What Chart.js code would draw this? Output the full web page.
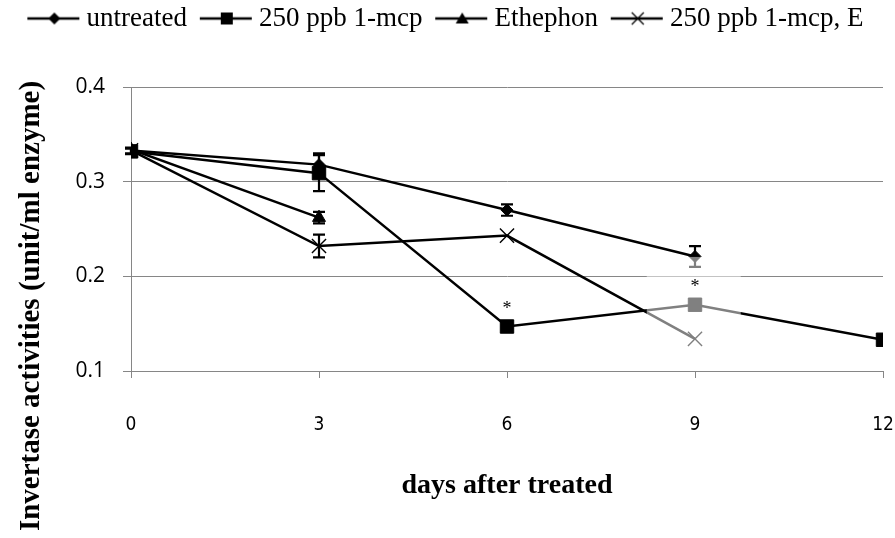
<!DOCTYPE html>
<html>
<head>
<meta charset="utf-8">
<script src="https://cdn.jsdelivr.net/npm/chart.js@4.4.1/dist/chart.umd.min.js"></script>
<style>
  html, body { margin: 0; padding: 0; background: #fff; }
  #wrap { width: 895px; height: 538px; }
</style>
</head>
<body>
<div id="wrap"><canvas id="invertaseChart"></canvas></div>
<script>
// days after treatment
const days = [0, 3, 6, 9, 12];

// invertase activity (unit/ml enzyme) and error bars
const untreated = [0.333, 0.318, 0.270, 0.221, null];
const untreatedErr = [0.003, 0.012, 0.006, 0.011, null];
const mcp250 = [0.332, 0.309, 0.147, 0.170, 0.133];
const mcp250Err = [0.003, 0.019, 0, 0, 0];
const ethephon = [0.334, 0.262, null, null, null];
const ethephonErr = [0, 0.006, null, null, null];
const mcpEthephon = [0.333, 0.232, 0.243, 0.134, null];
const mcpEthephonErr = [0, 0.012, 0, 0, null];

const seriesNames = ["untreated", "250 ppb 1-mcp", "Ethephon", "250 ppb 1-mcp, E"];
const yTicks = [0.1, 0.2, 0.3, 0.4];
const xTicks = [0, 3, 6, 9, 12];

// significant points on the 1-mcp line
const starDays = [6, 9];

// faded patch in the original (days / activity)
const fadeDays = [8.23, 9.73];
const fadeRange = [0.124, 0.2205];

function toPoints(vals) {
  return days.map((d, i) => ({ x: d, y: vals[i] })).filter(p => p.y !== null);
}

// legend icons: short line with the marker in the middle,
// drawn off-centre in a wider canvas so the spacing matches
function makeIcon(kind) {
  const c = document.createElement("canvas");
  c.width = 68; c.height = 22;
  const g = c.getContext("2d");
  const o = 15;
  g.strokeStyle = "#000"; g.fillStyle = "#000";
  g.lineWidth = 2.5;
  g.beginPath(); g.moveTo(o, 11); g.lineTo(o + 52, 11); g.stroke();
  const m = o + 27;
  g.beginPath();
  if (kind === "diamond") {
    g.moveTo(m, 5); g.lineTo(m + 6, 11); g.lineTo(m, 17); g.lineTo(m - 6, 11); g.closePath(); g.fill();
  } else if (kind === "square") {
    g.fillRect(m - 6, 5, 12, 12);
  } else if (kind === "triangle") {
    g.moveTo(m, 5); g.lineTo(m + 6.5, 16); g.lineTo(m - 6.5, 16); g.closePath(); g.fill();
  } else {
    g.lineWidth = 1.3;
    g.moveTo(m - 6, 5); g.lineTo(m + 6, 17); g.moveTo(m + 6, 5); g.lineTo(m - 6, 17); g.stroke();
  }
  return c;
}
const legendIcons = [makeIcon("diamond"), makeIcon("square"), makeIcon("triangle"), makeIcon("x")];

const errSets = [untreatedErr, mcp250Err, ethephonErr, mcpEthephonErr];
const valSets = [untreated, mcp250, ethephon, mcpEthephon];

const legendGap = {
  id: "legendGap",
  beforeInit(chart) {
    const fit = chart.legend.fit;
    chart.legend.fit = function () {
      fit.bind(chart.legend)();
      this.height += 45;
    };
  }
};

const extras = {
  id: "extras",
  afterDatasetsDraw(chart) {
    const ctx = chart.ctx;
    const xs = chart.scales.x, ys = chart.scales.y;
    // error bars
    ctx.save();
    ctx.strokeStyle = "#000";
    ctx.lineWidth = 2.2;
    valSets.forEach((vals, s) => {
      vals.forEach((v, i) => {
        const e = errSets[s][i];
        if (v === null || !e) return;
        const px = xs.getPixelForValue(days[i]);
        const top = ys.getPixelForValue(v + e);
        const bot = ys.getPixelForValue(v - e);
        ctx.beginPath();
        ctx.moveTo(px, top); ctx.lineTo(px, bot);
        ctx.moveTo(px - 6, top); ctx.lineTo(px + 6, top);
        ctx.moveTo(px - 6, bot); ctx.lineTo(px + 6, bot);
        ctx.stroke();
      });
    });
    // faded patch
    const fx0 = xs.getPixelForValue(fadeDays[0]), fx1 = xs.getPixelForValue(fadeDays[1]);
    const fy0 = ys.getPixelForValue(fadeRange[1]), fy1 = ys.getPixelForValue(fadeRange[0]);
    ctx.fillStyle = "rgba(255,255,255,0.5)";
    ctx.fillRect(fx0, fy0, fx1 - fx0, fy1 - fy0);
    // asterisks
    ctx.fillStyle = "#000";
    ctx.font = "18px 'Liberation Serif', serif";
    ctx.textAlign = "center";
    ctx.textBaseline = "alphabetic";
    starDays.forEach(d => {
      const i = days.indexOf(d);
      const px = xs.getPixelForValue(d);
      const py = ys.getPixelForValue(mcp250[i]);
      ctx.fillText("*", px, py - 13);
    });
    ctx.restore();
  },
  afterDraw(chart) {
    const ctx = chart.ctx;
    ctx.save();
    ctx.translate(32, 306);
    ctx.rotate(-Math.PI / 2);
    ctx.fillStyle = "#000";
    ctx.font = "bold 29px 'Liberation Serif', serif";
    ctx.textAlign = "center";
    ctx.textBaseline = "middle";
    ctx.fillText("Invertase activities (unit/ml enzyme)", 0, 0);
    ctx.restore();
  }
};

const lineDefaults = {
  borderColor: "#000",
  backgroundColor: "#000",
  borderWidth: 2.5,
  pointBackgroundColor: "#000",
  pointBorderColor: "#000",
  pointBorderWidth: 1,
  tension: 0,
  fill: false
};

new Chart(document.getElementById("invertaseChart"), {
  type: "line",
  data: {
    datasets: [
      { ...lineDefaults, label: seriesNames[0], data: toPoints(untreated), pointStyle: "rectRot", pointRadius: 6 },
      { ...lineDefaults, label: seriesNames[1], data: toPoints(mcp250), pointStyle: "rect", pointRadius: 9.5 },
      { ...lineDefaults, label: seriesNames[2], data: toPoints(ethephon), pointStyle: "triangle", pointRadius: 7.5 },
      { ...lineDefaults, label: seriesNames[3], data: toPoints(mcpEthephon), pointStyle: "crossRot", pointRadius: 10, pointBorderWidth: 1.4 }
    ]
  },
  options: {
    responsive: true,
    maintainAspectRatio: false,
    animation: false,
    layout: { padding: { left: 0, right: 12, top: 0, bottom: 0 } },
    plugins: {
      tooltip: { enabled: false },
      legend: {
        position: "top",
        labels: {
          usePointStyle: true,
          pointStyleWidth: 53.5,
          padding: 5,
          color: "#000",
          font: { family: "'Liberation Serif', serif", size: 27 },
          generateLabels: chart => chart.data.datasets.map((ds, i) => ({
            text: ds.label,
            pointStyle: legendIcons[i],
            fontColor: "#000",
            fillStyle: "transparent",
            strokeStyle: "transparent",
            lineWidth: 0,
            hidden: false,
            datasetIndex: i
          }))
        }
      }
    },
    scales: {
      x: {
        type: "linear",
        min: 0,
        max: 12,
        afterBuildTicks: s => { s.ticks = xTicks.map(v => ({ value: v })); },
        afterFit: s => { s.height = 167; s.paddingRight = 8; s.paddingLeft = 0; },
        grid: { drawOnChartArea: false, drawTicks: true, tickLength: 7, color: "#868686" },
        border: { display: true, color: "#868686" },
        ticks: {
          color: "#000",
          padding: 36,
          font: { family: "'Liberation Sans Narrow', 'DejaVu Sans Condensed', 'Arial Narrow', sans-serif", size: 19 }
        },
        title: {
          display: true,
          text: "days after treated",
          color: "#000",
          font: { family: "'Liberation Serif', serif", size: 28, weight: "bold" },
          padding: { top: 0, bottom: 35 }
        }
      },
      y: {
        min: 0.1,
        max: 0.4,
        afterBuildTicks: s => { s.ticks = yTicks.map(v => ({ value: v })); },
        afterFit: s => { s.width = 131; },
        grid: { color: "#868686", tickLength: 8 },
        border: { display: true, color: "#868686" },
        ticks: {
          color: "#000",
          padding: 18,
          font: { family: "'Open Sans', sans-serif", size: 21 },
          callback: v => v.toFixed(1)
        }
      }
    }
  },
  plugins: [legendGap, extras]
});
</script>
</body>
</html>
